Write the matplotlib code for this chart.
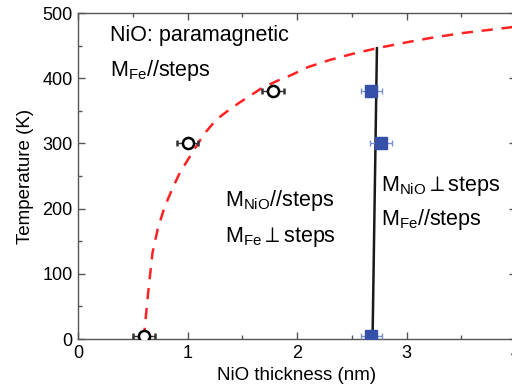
import matplotlib
matplotlib.use('Agg')
import matplotlib.pyplot as plt
from matplotlib.ticker import MultipleLocator

plt.rcParams['font.family'] = ['Liberation Sans', 'DejaVu Sans']
plt.rcParams['mathtext.fontset'] = 'custom'
plt.rcParams['mathtext.rm'] = 'Liberation Sans'
plt.rcParams['mathtext.it'] = 'Liberation Sans'

# open circles: NiO ordering onset
circ_x = [0.6, 1.0, 1.78]
circ_y = [5, 300, 380]
circ_err = [0.1, 0.1, 0.1]

# filled squares: spin reorientation
sq_x = [2.68, 2.77, 2.68]
sq_y = [380, 300, 5]
sq_err = [0.1, 0.1, 0.1]

# dashed phase boundary
curve_x = [0.6, 0.64, 0.68, 0.73, 0.79, 0.86, 0.93, 1.0, 1.06, 1.15, 1.26, 1.36,
           1.47, 1.58, 1.68, 1.82, 1.95, 2.1, 2.3, 2.5, 2.73, 3.0, 3.23, 3.5, 3.75, 4.0]
curve_y = [0, 70, 132, 170, 202, 230, 255, 274, 290, 314, 336, 349,
           362, 374, 385, 396, 405, 417, 428, 437, 446, 455, 462, 469, 474, 479]

# vertical boundary
vline_x = [2.69, 2.73]
vline_y = [0, 446]

fig = plt.figure(figsize=(5.12, 3.9), dpi=100)
ax = fig.add_axes([78 / 512, 51 / 390, 438 / 512, 326 / 390])

ax.plot(curve_x, curve_y, color='#ff2222', lw=1.8, dashes=(4.5, 3.5), zorder=2)
ax.plot(vline_x, vline_y, color='#1a1a1a', lw=1.8, zorder=2)

ax.errorbar(circ_x, circ_y, xerr=circ_err, fmt='o', ms=8, mfc='white',
            mec='black', mew=1.8, ecolor='#333333', elinewidth=1, capsize=2.5, zorder=4)
ax.errorbar(sq_x, sq_y, xerr=sq_err, fmt='s', ms=8, mfc='#3550a8',
            mec='#3550a8', ecolor='#7a8fd0', elinewidth=1, capsize=2.5, zorder=3)

fs = 15.5
ax.text(0.29, 466, 'NiO: paramagnetic', fontsize=fs, va='center')
ax.text(0.29, 412, r'M$_{\rm Fe}$//steps', fontsize=fs, va='center')
ax.text(1.34, 213, r'M$_{\rm NiO}$//steps', fontsize=fs, va='center')
ax.text(1.34, 156, r'M$_{\rm Fe}$$\perp$steps', fontsize=fs, va='center')
ax.text(2.77, 235, r'M$_{\rm NiO}$$\perp$steps', fontsize=fs, va='center')
ax.text(2.77, 184, r'M$_{\rm Fe}$//steps', fontsize=fs, va='center')

ax.set_xlim(0, 4)
ax.set_ylim(0, 500)
ax.xaxis.set_major_locator(MultipleLocator(1))
ax.xaxis.set_minor_locator(MultipleLocator(0.5))
ax.yaxis.set_major_locator(MultipleLocator(100))
ax.yaxis.set_minor_locator(MultipleLocator(50))
ax.tick_params(which='both', direction='in', top=True, right=True,
               color='#555555', labelsize=13, pad=4)
ax.tick_params(which='major', length=5, width=1)
ax.tick_params(which='minor', length=3, width=1)
for s in ax.spines.values():
    s.set_color('#555555')
    s.set_linewidth(1)

ax.set_xlabel('NiO thickness (nm)', fontsize=13.5, labelpad=4)
ax.set_ylabel('Temperature (K)', fontsize=13.5, labelpad=6)

fig.savefig('out.png', dpi=100, facecolor='white')
